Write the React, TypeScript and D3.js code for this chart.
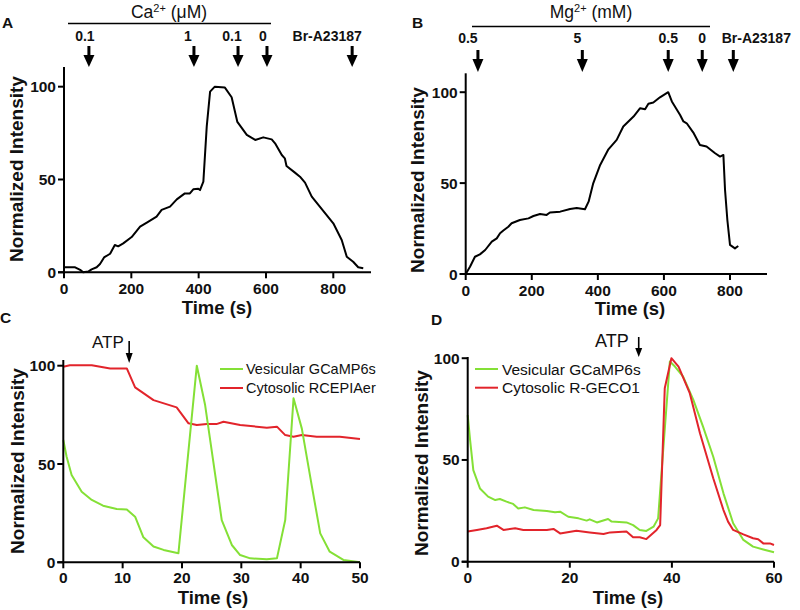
import React from 'react';
import * as d3 from 'd3';

const FONT = '"Liberation Sans", Arial, Helvetica, sans-serif';
const GREEN = '#84e036';
const RED = '#e2242b';

// ---------- Panel A (Ca2+) ----------
const caCurve: [number, number][] = [
  [0, 2.7], [33, 2.7], [48, 1.3], [57, 0], [72, 0.4], [82, 1.6], [97, 2.7], [107, 4.5], [119, 8],
  [137, 10], [151, 14.7], [161, 14], [176, 15.6], [201, 19], [226, 24.6], [246, 26.8], [275, 30],
  [290, 33.6], [315, 35.4], [335, 39.3], [359, 42.5], [374, 42.5], [384, 44.7], [399, 45], [404, 44.3],
  [414, 48.8], [424, 78.5], [434, 97.3], [448, 100], [478, 99.5], [498, 94.3], [515, 81], [543, 74],
  [568, 71.3], [592, 72.7], [617, 71.6], [627, 69.5], [647, 63.2], [656, 61.4], [661, 57.3], [686, 53.7],
  [701, 51.5], [716, 48.3], [736, 40.8], [800, 26.4], [825, 17.4], [840, 8.4], [859, 5.7], [874, 2.7], [889, 2.2],
];
const caArrowTimes = [74, 386, 517, 603, 856];
const caArrowLabels = ['0.1', '1', '0.1', '0', 'Br-A23187'];

// ---------- Panel B (Mg2+) ----------
const mgCurve: [number, number][] = [
  [0, 0], [13, 4], [28, 9.5], [43, 10.8], [59, 13.2], [79, 17.8], [94, 19.6], [104, 22.4], [114, 23.9],
  [129, 26], [139, 27.9], [164, 29.7], [190, 30.6], [205, 31.9], [225, 33], [245, 32.5], [255, 33.8],
  [286, 34.3], [316, 35.8], [336, 36.3], [361, 35.6], [372, 39.8], [386, 49.9], [407, 60], [432, 68.6],
  [457, 73.8], [477, 81.1], [508, 86.6], [528, 91.2], [543, 90.6], [553, 93.6], [568, 94.3], [588, 97.2],
  [613, 100], [624, 94.9], [649, 87.5], [659, 83.9], [669, 82.9], [689, 77.8], [709, 71], [729, 70.1],
  [755, 66.4], [770, 64.6], [780, 65.5], [785, 46.2], [792, 29.7], [800, 16], [815, 14.1], [825, 15.4],
];
const mgArrowTimes = [37, 353, 613, 716, 810];
const mgArrowLabels = ['0.5', '5', '0.5', '0', 'Br-A23187'];

const timeTicksAB = [0, 200, 400, 600, 800];
const intensityTicks = [0, 50, 100];

// ---------- Panel C ----------
const cVesicular: [number, number][] = [
  [0, 62.2], [0.56, 53.7], [1.4, 44.4], [3.1, 35.9], [4.8, 31.7], [6.7, 28.8], [9, 27.1], [10.7, 26.9],
  [12.1, 23.2], [13.5, 12.7], [15.2, 8], [16.9, 6.3], [19.4, 4.6], [22.5, 100], [23.9, 80], [26.7, 21.5],
  [28.4, 8.8], [29.8, 3.7], [31.5, 2], [34.3, 1.5], [36, 2], [37.4, 21.5], [38.8, 83.4], [40.2, 68],
  [41.9, 38.5], [43.3, 14.7], [44.9, 5.4], [47.2, 1.2], [50, 0],
];
const cCytosolic: [number, number][] = [
  [0, 99.5], [1.1, 100.2], [4.8, 100.2], [7.9, 98.6], [10.7, 98.6], [12.1, 89], [15.2, 82.5], [19.1, 78.8],
  [21.1, 70.7], [22.5, 69.8], [24.2, 70.3], [25.8, 70.3], [27, 71.5], [29.8, 69.8], [32.6, 69], [34.3, 68.5],
  [36, 69], [37.4, 64.7], [38.8, 63.9], [40.2, 64.7], [42.7, 63.9], [46.6, 63.9], [50, 62.7],
];
const cTimeTicks = [0, 10, 20, 30, 40, 50];
const cLegend = ['Vesicular GCaMP6s', 'Cytosolic RCEPIAer'];
const cAtpTime = 11.1;

// ---------- Panel D ----------
const dVesicular: [number, number][] = [
  [0, 72], [0.46, 60], [1.1, 45], [2.4, 36], [4, 32], [5.4, 30.3], [6.3, 30.8], [7.6, 29.5], [8.9, 28.4],
  [9.9, 26.2], [11.2, 26.7], [12.9, 25.4], [15.5, 24.9], [17.1, 24.3], [18.1, 24.6], [19.7, 22.1],
  [21.7, 21.3], [23.3, 20.2], [23.9, 20.8], [25.3, 19.3], [27.5, 21], [28.2, 19.7], [31.1, 19.3],
  [32.4, 18], [33.7, 15.6], [35, 15.1], [36.4, 17.2], [37.3, 21.3], [38.3, 55], [39.6, 98.4], [40.6, 95.9],
  [42.2, 91], [44.2, 79.5], [46.1, 66.4], [48.1, 51.6], [50.1, 33.6], [52, 18.9], [54, 10.7], [55.9, 7.4],
  [57.9, 6], [60, 4.6],
];
const dCytosolic: [number, number][] = [
  [0, 14.8], [1.8, 15.6], [3.7, 16.4], [5.7, 17.7], [7, 15.6], [9.3, 16.4], [10.9, 15.6], [15.5, 15.6],
  [16.8, 16.1], [18.1, 13.9], [21.3, 15.2], [23.9, 14.4], [26.6, 13.6], [27.9, 14.4], [31.1, 14.8],
  [32.4, 12], [33.7, 12], [35, 11.1], [37, 15.6], [37.7, 18], [38.6, 85.2], [39.9, 100], [41.3, 95.9],
  [43.5, 82.8], [45.5, 63.1], [48.1, 41], [50.1, 25.4], [51, 19.7], [52, 15.6], [54, 13.4], [55.9, 11.5],
  [56.9, 11], [57.9, 9], [59.2, 9], [60, 8.2],
];
const dTimeTicks = [0, 20, 40, 60];
const dLegend = ['Vesicular GCaMP6s', 'Cytosolic R-GECO1'];
const dAtpTime = 33.5;

type Sc = d3.ScaleLinear<number, number>;

function Axes({ x, y, xTicks, yTicks, xTitle, yTitle, xTitleX, xTitleY, yTitleX, yTitleY, tickDy = 22 }: {
  x: Sc; y: Sc; xTicks: number[]; yTicks: number[]; xTitle: string; yTitle: string;
  xTitleX: number; xTitleY: number; yTitleX: number; yTitleY: number; tickDy?: number;
}) {
  const [x0, x1] = x.range();
  const [y0, y1] = y.range();
  return (
    <g fontFamily={FONT} fill="#111">
      <line x1={x0} x2={x0} y1={y0} y2={y1} stroke="#000" strokeWidth={2} />
      <line x1={x0 - 6} x2={x1} y1={y0} y2={y0} stroke="#000" strokeWidth={2} />
      {yTicks.map((t) => (
        <g key={'y' + t}>
          <line x1={x0 - 6} x2={x0} y1={y(t)} y2={y(t)} stroke="#000" strokeWidth={2} />
          <text x={x0 - 8} y={y(t) + 5.5} textAnchor="end" fontSize={15.5} fontWeight="bold">{t}</text>
        </g>
      ))}
      {xTicks.map((t) => (
        <g key={'x' + t}>
          <line x1={x(t)} x2={x(t)} y1={y0} y2={y0 + 6} stroke="#000" strokeWidth={2} />
          <text x={x(t)} y={y0 + tickDy} textAnchor="middle" fontSize={15.5} fontWeight="bold">{t}</text>
        </g>
      ))}
      <text x={xTitleX} y={xTitleY} textAnchor="middle" fontSize={18.5} fontWeight="bold">{xTitle}</text>
      <text transform={`translate(${yTitleX},${yTitleY}) rotate(-90)`} textAnchor="middle" fontSize={19} fontWeight="bold">{yTitle}</text>
    </g>
  );
}

function ThickArrow({ x, yTop, yHead, yBottom }: { x: number; yTop: number; yHead: number; yBottom: number }) {
  return (
    <g>
      <rect x={x - 1.5} y={yTop} width={3} height={yHead - yTop + 1} fill="#000" />
      <path d={`M${x - 5.5},${yHead} L${x + 5.5},${yHead} L${x},${yBottom} Z`} fill="#000" />
    </g>
  );
}

function ThinArrow({ x, yTop, yHead, yBottom }: { x: number; yTop: number; yHead: number; yBottom: number }) {
  return (
    <g>
      <line x1={x} x2={x} y1={yTop} y2={yHead + 1} stroke="#000" strokeWidth={1.6} />
      <path d={`M${x - 3.5},${yHead} L${x + 3.5},${yHead} L${x},${yBottom} Z`} fill="#000" />
    </g>
  );
}

export default function App() {
  // Panel A
  const xA = d3.scaleLinear().domain([0, 912]).range([64, 371]);
  const yA = d3.scaleLinear().domain([0, 110.6]).range([272.3, 67]);
  const pathA = d3.line<[number, number]>().x((d) => xA(d[0])).y((d) => yA(d[1]))(caCurve) || '';
  const caDx = [-4, -6, -6, -4, -25];

  // Panel B
  const xB = d3.scaleLinear().domain([0, 912]).range([465.7, 767]);
  const yB = d3.scaleLinear().domain([0, 110.4]).range([274, 73.3]);
  const pathB = d3.line<[number, number]>().x((d) => xB(d[0])).y((d) => yB(d[1]))(mgCurve) || '';
  const mgDx = [-10, -5, 0, 0, 23];

  // Panel C
  const xC = d3.scaleLinear().domain([0, 50]).range([63.3, 360]);
  const yC = d3.scaleLinear().domain([0, 102.9]).range([562.3, 360]);
  const lC = d3.line<[number, number]>().x((d) => xC(d[0])).y((d) => yC(d[1]));

  // Panel D
  const xD = d3.scaleLinear().domain([0, 60]).range([467.7, 774]);
  const yD = d3.scaleLinear().domain([0, 100.6]).range([561.7, 357]);
  const lD = d3.line<[number, number]>().x((d) => xD(d[0])).y((d) => yD(d[1]));

  return (
    <svg width={800} height={610} style={{ position: 'absolute', left: 0, top: 0, background: '#fff' }}
      fontFamily={FONT}>
      <rect x={0} y={0} width={800} height={610} fill="#fff" />

      {/* Panel letters */}
      <g fontSize={15.5} fontWeight="bold" fill="#111">
        <text x={2} y={28}>A</text>
        <text x={412} y={28}>B</text>
        <text x={0} y={323}>C</text>
        <text x={431} y={325}>D</text>
      </g>

      {/* ---- Panel A ---- */}
      <text x={169} y={18} textAnchor="middle" fontSize={17.5} fill="#111">
        Ca<tspan fontSize={11} dy={-6}>2+</tspan><tspan dy={6}> (μM)</tspan>
      </text>
      <line x1={68} x2={271} y1={23.5} y2={23.5} stroke="#000" strokeWidth={1.5} />
      {caArrowTimes.map((t, i) => (
        <g key={'ca' + i}>
          <text x={xA(t) + caDx[i]} y={41} textAnchor="middle" fontSize={14} fontWeight="bold" fill="#111">{caArrowLabels[i]}</text>
          <ThickArrow x={xA(t)} yTop={46} yHead={55} yBottom={67} />
        </g>
      ))}
      <path d={pathA} fill="none" stroke="#000" strokeWidth={2} strokeLinejoin="round" />
      <Axes x={xA} y={yA} xTicks={timeTicksAB} yTicks={intensityTicks} xTitle="Time (s)" yTitle="Normalized Intensity"
        xTitleX={217} xTitleY={314} yTitleX={23} yTitleY={169} />

      {/* ---- Panel B ---- */}
      <text x={591} y={18} textAnchor="middle" fontSize={17.5} fill="#111">
        Mg<tspan fontSize={11} dy={-6}>2+</tspan><tspan dy={6}> (mM)</tspan>
      </text>
      <line x1={472} x2={710} y1={26.5} y2={26.5} stroke="#000" strokeWidth={1.5} />
      {mgArrowTimes.map((t, i) => (
        <g key={'mg' + i}>
          <text x={xB(t) + mgDx[i]} y={43} textAnchor="middle" fontSize={14} fontWeight="bold" fill="#111">{mgArrowLabels[i]}</text>
          <ThickArrow x={xB(t)} yTop={50} yHead={59} yBottom={72} />
        </g>
      ))}
      <path d={pathB} fill="none" stroke="#000" strokeWidth={2} strokeLinejoin="round" />
      <Axes x={xB} y={yB} xTicks={timeTicksAB} yTicks={intensityTicks} xTitle="Time (s)" yTitle="Normalized Intensity"
        xTitleX={630} xTitleY={315} yTitleX={424} yTitleY={180} />

      {/* ---- Panel C ---- */}
      <path d={lC(cCytosolic) || ''} fill="none" stroke={RED} strokeWidth={2} strokeLinejoin="round" />
      <path d={lC(cVesicular) || ''} fill="none" stroke={GREEN} strokeWidth={2} strokeLinejoin="round" />
      <Axes x={xC} y={yC} xTicks={cTimeTicks} yTicks={intensityTicks} xTitle="Time (s)" yTitle="Normalized Intensity"
        xTitleX={213} xTitleY={604} yTitleX={24} yTitleY={461} tickDy={21} />
      <text x={92} y={348} fontSize={17} fill="#111">ATP</text>
      <ThinArrow x={xC(cAtpTime)} yTop={341} yHead={353} yBottom={363} />
      {cLegend.map((s, i) => (
        <g key={'cl' + i}>
          <line x1={220} x2={243} y1={369 + i * 19} y2={369 + i * 19} stroke={i === 0 ? GREEN : RED} strokeWidth={2} />
          <text x={246} y={374 + i * 19} fontSize={14.5} fill="#111">{s}</text>
        </g>
      ))}

      {/* ---- Panel D ---- */}
      <path d={lD(dVesicular) || ''} fill="none" stroke={GREEN} strokeWidth={2} strokeLinejoin="round" />
      <path d={lD(dCytosolic) || ''} fill="none" stroke={RED} strokeWidth={2} strokeLinejoin="round" />
      <Axes x={xD} y={yD} xTicks={dTimeTicks} yTicks={intensityTicks} xTitle="Time (s)" yTitle="Normalized Intensity"
        xTitleX={628} xTitleY={604} yTitleX={428} yTitleY={463} tickDy={21} />
      <text x={595} y={347} fontSize={18} fill="#111">ATP</text>
      <ThinArrow x={xD(dAtpTime)} yTop={337} yHead={348} yBottom={357} />
      {dLegend.map((s, i) => (
        <g key={'dl' + i}>
          <line x1={475} x2={498} y1={369 + i * 18.7} y2={369 + i * 18.7} stroke={i === 0 ? GREEN : RED} strokeWidth={2} />
          <text x={502} y={374.5 + i * 18.7} fontSize={15.5} fill="#111">{s}</text>
        </g>
      ))}
    </svg>
  );
}
